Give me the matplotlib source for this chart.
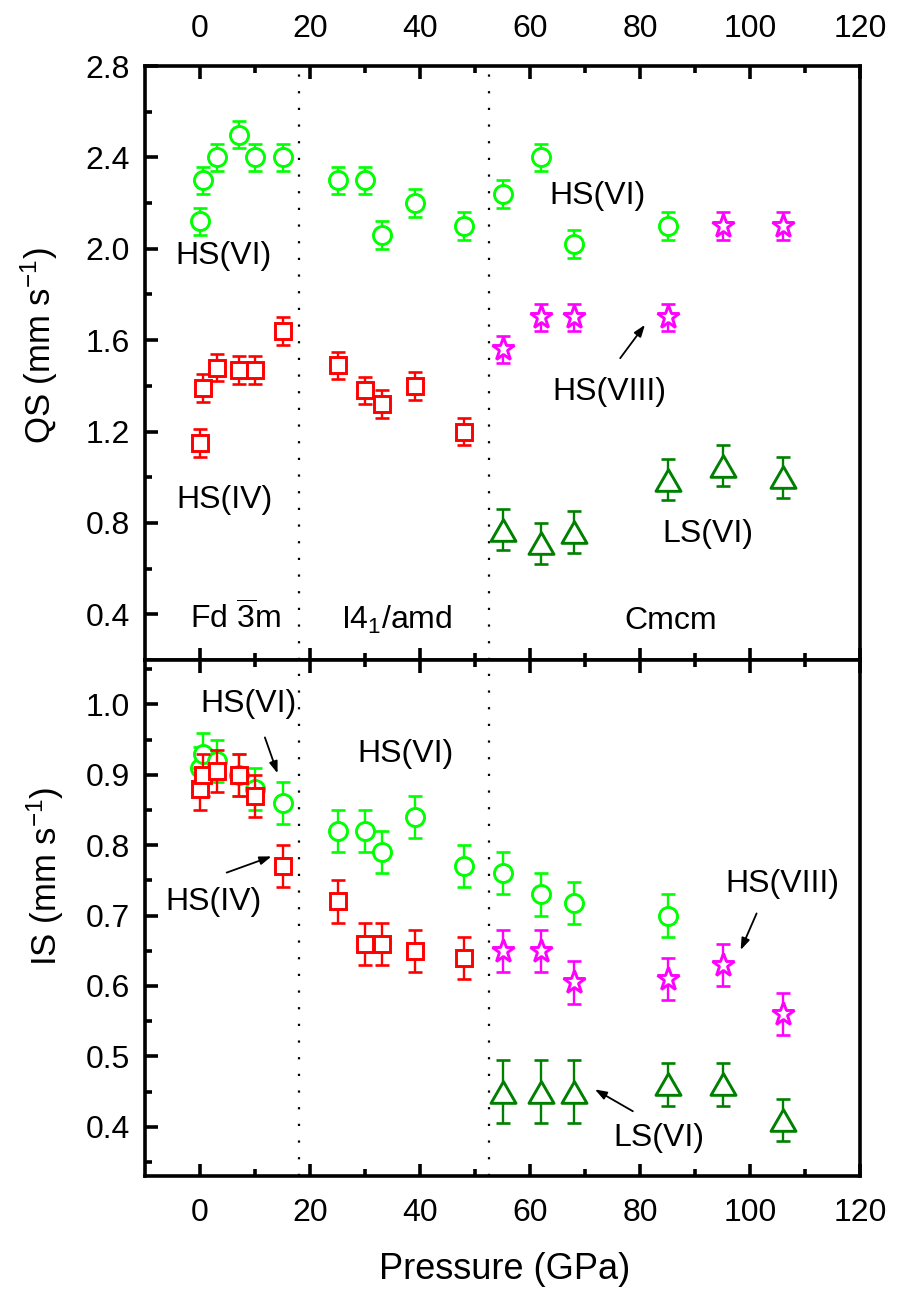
import matplotlib
matplotlib.use("Agg")
import matplotlib.pyplot as plt
from matplotlib.path import Path

plt.rcParams['font.family'] = ['Liberation Sans', 'DejaVu Sans']
plt.rcParams['mathtext.fontset'] = 'custom'
plt.rcParams['mathtext.rm'] = 'Liberation Sans'
plt.rcParams['mathtext.it'] = 'Liberation Sans:italic'
plt.rcParams['mathtext.bf'] = 'Liberation Sans:bold'
plt.rcParams['mathtext.default'] = 'regular'

# ---------------- data ----------------
# QS panel
p_hs6_qs = [0, 0.5, 3, 7, 10, 15, 25, 30, 33, 39, 48, 55, 62, 68, 85]
qs_hs6 = [2.12, 2.30, 2.40, 2.50, 2.40, 2.40, 2.30, 2.30, 2.06, 2.20, 2.10, 2.24, 2.40, 2.02, 2.10]
qs_hs6_err = 0.06

p_hs4_qs = [0, 0.5, 3, 7, 10, 15, 25, 30, 33, 39, 48]
qs_hs4 = [1.15, 1.39, 1.48, 1.47, 1.47, 1.64, 1.49, 1.38, 1.32, 1.40, 1.20]
qs_hs4_err = 0.06

p_hs8_qs = [55, 62, 68, 85, 95, 106]
qs_hs8 = [1.56, 1.70, 1.70, 1.70, 2.10, 2.10]
qs_hs8_err = 0.06

p_ls6_qs = [55, 62, 68, 85, 95, 106]
qs_ls6 = [0.77, 0.71, 0.76, 0.99, 1.05, 1.00]
qs_ls6_err = 0.09

# IS panel
p_hs6_is = [0, 0.5, 3, 7, 10, 15, 25, 30, 33, 39, 48, 55, 62, 68, 85]
is_hs6 = [0.91, 0.93, 0.92, 0.90, 0.88, 0.86, 0.82, 0.82, 0.79, 0.84, 0.77, 0.76, 0.73, 0.718, 0.70]
is_hs6_err = 0.03

p_hs4_is = [0, 0.5, 3, 7, 10, 15, 25, 30, 33, 39, 48]
is_hs4 = [0.88, 0.90, 0.905, 0.90, 0.87, 0.77, 0.72, 0.66, 0.66, 0.65, 0.64]
is_hs4_err = 0.03

p_hs8_is = [55, 62, 68, 85, 95, 106]
is_hs8 = [0.65, 0.65, 0.605, 0.61, 0.63, 0.56]
is_hs8_err = 0.03

p_ls6_is = [55, 62, 68, 85, 95, 106]
is_ls6 = [0.45, 0.45, 0.45, 0.46, 0.46, 0.41]
is_ls6_err = [0.045, 0.045, 0.045, 0.03, 0.03, 0.03]

phase_bounds = [18, 52.5]
x_ticks = [0, 20, 40, 60, 80, 100, 120]

# ---------------- styles ----------------
C_HS6 = '#00FF00'
C_HS4 = '#FF0000'
C_HS8 = '#FF00FF'
C_LS6 = '#008000'
tri = Path([(-1, -0.866), (1, -0.866), (0, 0.866), (-1, -0.866)],
           [Path.MOVETO, Path.LINETO, Path.LINETO, Path.CLOSEPOLY])

W, H = 897, 1294
fig = plt.figure(figsize=(W / 100, H / 100), dpi=100)
L, R = 145, 860
ax1 = fig.add_axes([L / W, 1 - 660 / H, (R - L) / W, (660 - 66) / H])
ax2 = fig.add_axes([L / W, 1 - 1176 / H, (R - L) / W, (1176 - 660) / H])


def series(ax, x, y, err, color, marker, ms, z):
    ax.errorbar(x, y, yerr=err, fmt='none', ecolor=color, elinewidth=1.7,
                capsize=4.8, capthick=1.9, zorder=z)
    ax.plot(x, y, linestyle='none', marker=marker, ms=ms, mfc='white',
            mec=color, mew=2.1, zorder=z + 0.5)


series(ax1, p_hs6_qs, qs_hs6, qs_hs6_err, C_HS6, 'o', 13, 3)
series(ax1, p_hs4_qs, qs_hs4, qs_hs4_err, C_HS4, 's', 12, 4)
series(ax1, p_hs8_qs, qs_hs8, qs_hs8_err, C_HS8, '*', 17, 5)
series(ax1, p_ls6_qs, qs_ls6, qs_ls6_err, C_LS6, tri, 18, 6)

series(ax2, p_hs6_is, is_hs6, is_hs6_err, C_HS6, 'o', 13, 3)
series(ax2, p_hs4_is, is_hs4, is_hs4_err, C_HS4, 's', 12, 4)
series(ax2, p_hs8_is, is_hs8, is_hs8_err, C_HS8, '*', 17, 5)
series(ax2, p_ls6_is, is_ls6, is_ls6_err, C_LS6, tri, 18, 6)

for ax in (ax1, ax2):
    for xb in phase_bounds:
        ax.axvline(xb, color='black', lw=1.6, linestyle=(0, (1, 6.5)), zorder=1)
    ax.set_xlim(-10, 120)
    ax.set_xticks(x_ticks)
    ax.set_xticks(range(10, 120, 20), minor=True)
    for s in ax.spines.values():
        s.set_linewidth(2.6)
    ax.tick_params(axis='both', which='major', direction='in', length=9,
                   width=2.6, labelsize=23)
    ax.tick_params(axis='both', which='minor', direction='in', length=5,
                   width=2.6)
    ax.tick_params(axis='y', which='both', left=True, right=False, pad=11)

ax1.tick_params(axis='x', which='both', top=True, bottom=True,
                labeltop=True, labelbottom=False, pad=16)
ax2.tick_params(axis='x', which='both', top=True, bottom=True,
                labeltop=False, labelbottom=True, pad=16)

ax1.set_ylim(0.2, 2.8)
ax1.set_yticks([0.4, 0.8, 1.2, 1.6, 2.0, 2.4, 2.8])
ax1.set_yticks([0.2, 0.6, 1.0, 1.4, 1.8, 2.2, 2.6], minor=True)
ax1.set_yticklabels(['0.4', '0.8', '1.2', '1.6', '2.0', '2.4', '2.8'])

ax2.set_ylim(0.33, 1.063)
ax2.set_yticks([0.4, 0.5, 0.6, 0.7, 0.8, 0.9, 1.0])
ax2.set_yticks([0.35, 0.45, 0.55, 0.65, 0.75, 0.85, 0.95, 1.05], minor=True)
ax2.set_yticklabels(['0.4', '0.5', '0.6', '0.7', '0.8', '0.9', '1.0'])

ax1.set_ylabel('QS (mm s$^{-1}$)', fontsize=25)
ax1.yaxis.set_label_coords(-0.148, 0.53)
ax1.yaxis.label.set_verticalalignment('center')
ax2.set_ylabel('IS (mm s$^{-1}$)', fontsize=25)
ax2.yaxis.set_label_coords(-0.14, 0.58)
ax2.yaxis.label.set_verticalalignment('center')
ax2.set_xlabel('Pressure (GPa)', fontsize=26)
ax2.xaxis.set_label_coords(0.503, -0.182)
ax2.xaxis.label.set_verticalalignment('center')

# ---------------- labels ----------------
fs = 23
arrow_kw = dict(arrowstyle='-|>,head_length=0.7,head_width=0.25', color='black',
                lw=1.3, shrinkA=0, shrinkB=0)

ax1.text(4.24, 1.97, 'HS(VI)', fontsize=fs, ha='center', va='center')
ax1.text(4.5, 0.90, 'HS(IV)', fontsize=fs, ha='center', va='center')
ax1.text(72.3, 2.232, 'HS(VI)', fontsize=fs, ha='center', va='center')
ax1.text(74.4, 1.375, 'HS(VIII)', fontsize=fs, ha='center', va='center')
ax1.text(92.3, 0.752, 'LS(VI)', fontsize=fs, ha='center', va='center')
ax1.annotate('', xy=(80.9, 1.667), xytext=(76.4, 1.521), arrowprops=arrow_kw)
ax1.text(6.45, 0.335, r'Fd $\overline{3}$m', fontsize=fs, ha='center', va='baseline')
ax1.text(35.7, 0.335, 'I4$_1$/amd', fontsize=fs, ha='center', va='baseline')
ax1.text(85.6, 0.335, 'Cmcm', fontsize=fs, ha='center', va='baseline')

ax2.text(8.8, 1.0, 'HS(VI)', fontsize=fs, ha='center', va='center')
ax2.annotate('', xy=(14.1, 0.902), xytext=(11.8, 0.953), arrowprops=arrow_kw)
ax2.text(37.3, 0.930, 'HS(VI)', fontsize=fs, ha='center', va='center')
ax2.text(2.4, 0.719, 'HS(IV)', fontsize=fs, ha='center', va='center')
ax2.annotate('', xy=(13.0, 0.784), xytext=(4.85, 0.761), arrowprops=arrow_kw)
ax2.text(105.9, 0.745, 'HS(VIII)', fontsize=fs, ha='center', va='center')
ax2.annotate('', xy=(98.3, 0.651), xytext=(101.2, 0.703), arrowprops=arrow_kw)
ax2.text(83.5, 0.384, 'LS(VI)', fontsize=fs, ha='center', va='center')
ax2.annotate('', xy=(71.8, 0.453), xytext=(78.7, 0.422), arrowprops=arrow_kw)

fig.savefig('out.png', dpi=100)
